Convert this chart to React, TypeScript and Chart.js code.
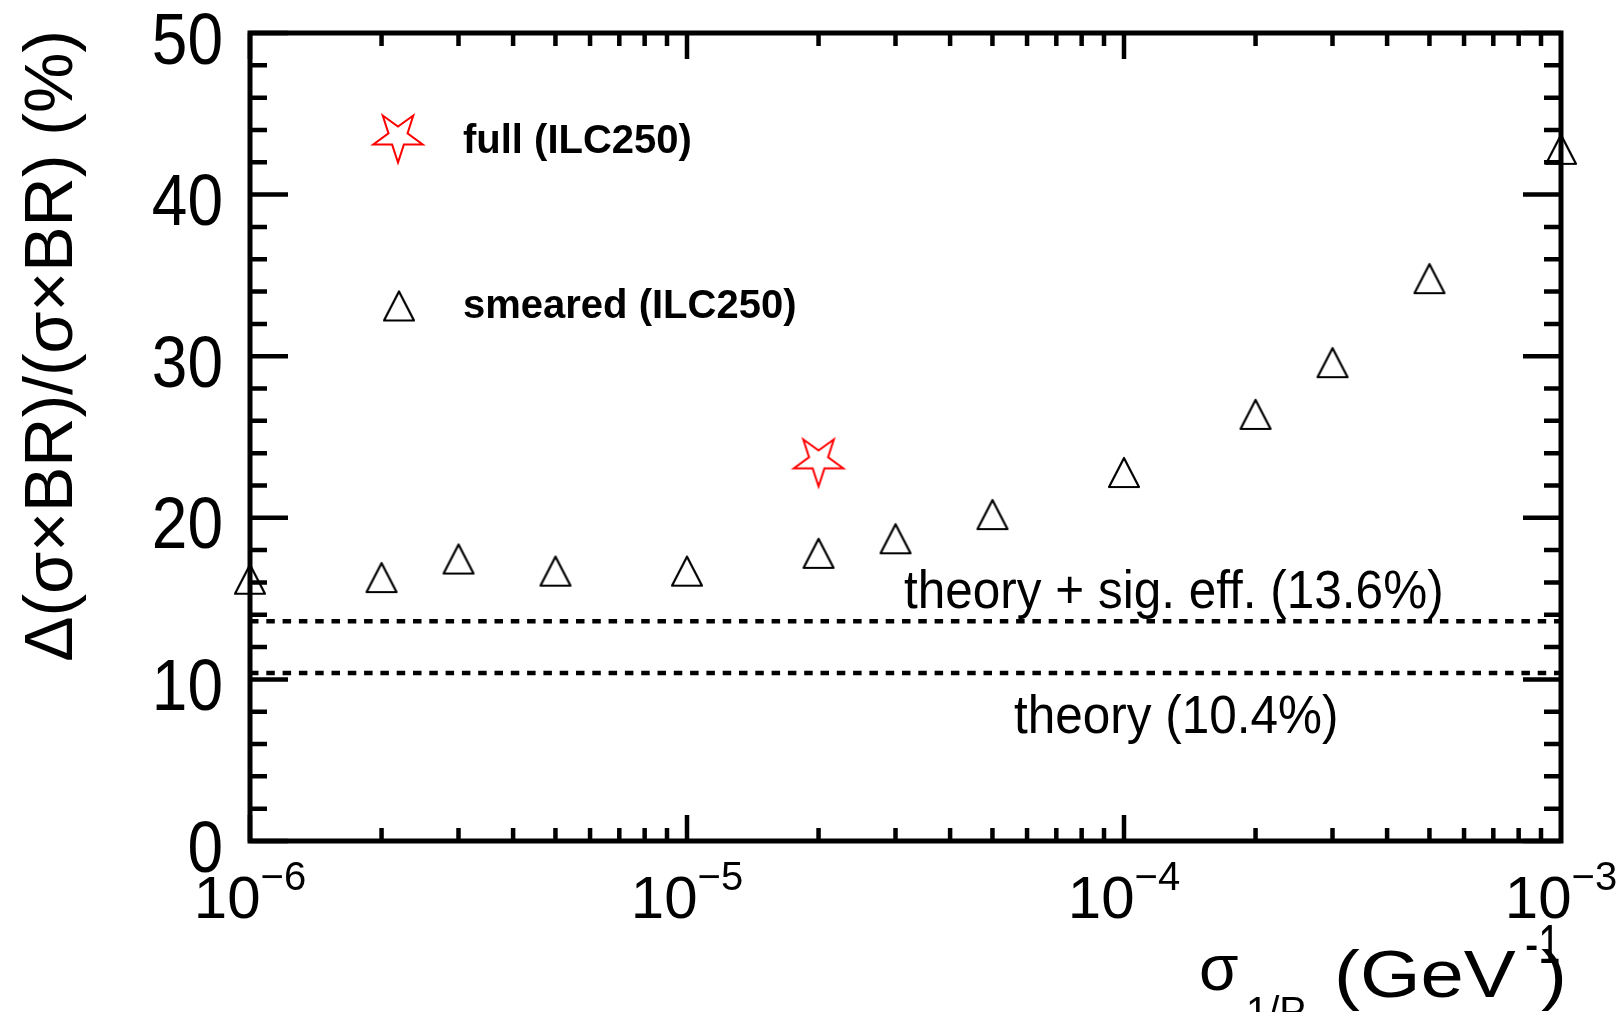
import React, { useEffect, useRef } from "react";
import { Chart, registerables } from "chart.js";

Chart.register(...registerables);

// ---- data ----
const X_VALUES = [1e-6, 2e-6, 3e-6, 5e-6, 1e-5, 2e-5, 3e-5, 5e-5, 1e-4, 2e-4, 3e-4, 5e-4, 1e-3];
const SMEARED = [16.2, 16.3, 17.45, 16.7, 16.7, 17.8, 18.7, 20.2, 22.8, 26.4, 29.6, 34.8, 42.8];
const FULL_X = [2e-5];
const FULL_Y = [23.4];
const THEORY_SIG_EFF = 13.6;
const THEORY = 10.4;
const X_MIN = 1e-6;
const X_MAX = 1e-3;
const Y_MIN = 0;
const Y_MAX = 50;
const Y_MAJOR_TICKS = [0, 10, 20, 30, 40, 50];
const Y_MINOR_STEP = 2;
const X_DECADE_EXPONENTS = [-6, -5, -4, -3];
const LEGEND_LABELS = ["full (ILC250)", "smeared (ILC250)"];
const THEORY_LABELS = ["theory + sig. eff. (13.6%)", "theory (10.4%)"];
const Y_TITLE = "\u0394(\u03c3\u00d7BR)/(\u03c3\u00d7BR) (%)";

const FONT = "'Liberation Sans', Arial, Helvetica, sans-serif";

function makeTriangle(): HTMLCanvasElement {
  const c = document.createElement("canvas");
  c.width = 34;
  c.height = 33;
  const g = c.getContext("2d")!;
  g.strokeStyle = "#000";
  g.lineWidth = 2.2;
  g.lineJoin = "round";
  g.beginPath();
  g.moveTo(17, 2);
  g.lineTo(32, 31);
  g.lineTo(2, 31);
  g.closePath();
  g.stroke();
  return c;
}

function makeStar(): HTMLCanvasElement {
  const c = document.createElement("canvas");
  c.width = 58;
  c.height = 54;
  const g = c.getContext("2d")!;
  const R = 26;
  const r = 10;
  const cx = 29;
  const cy = 27 - 0.0955 * R;
  g.strokeStyle = "#ff0000";
  g.lineWidth = 2;
  g.lineJoin = "miter";
  g.beginPath();
  for (let i = 0; i < 10; i++) {
    const a = Math.PI / 2 + (i * Math.PI) / 5;
    const rad = i % 2 === 0 ? R : r;
    const px = cx + rad * Math.cos(a);
    const py = cy + rad * Math.sin(a);
    if (i === 0) g.moveTo(px, py);
    else g.lineTo(px, py);
  }
  g.closePath();
  g.stroke();
  return c;
}

function txt(
  ctx: CanvasRenderingContext2D,
  s: string,
  x: number,
  y: number,
  font: string,
  align: CanvasTextAlign = "left",
  sx = 1,
  sy = 1
) {
  ctx.save();
  ctx.font = font;
  ctx.textAlign = align;
  ctx.textBaseline = "alphabetic";
  ctx.fillStyle = "#000";
  ctx.translate(x, y);
  ctx.scale(sx, sy);
  ctx.fillText(s, 0, 0);
  ctx.restore();
}

export default function App() {
  const ref = useRef<HTMLCanvasElement | null>(null);

  useEffect(() => {
    const canvas = ref.current;
    if (!canvas) return;
    const tri = makeTriangle();
    const star = makeStar();

    const framePlugin = {
      id: "rootFrame",
      beforeDatasetsDraw(chart: any) {
        const ctx: CanvasRenderingContext2D = chart.ctx;
        const { left, right, top, bottom } = chart.chartArea;
        const xs = chart.scales.x;
        const ys = chart.scales.y;
        ctx.save();
        ctx.strokeStyle = "#000";
        ctx.lineCap = "butt";
        // ticks
        ctx.lineWidth = 4.5;
        ctx.beginPath();
        for (let v = Y_MIN; v <= Y_MAX; v += Y_MINOR_STEP) {
          const py = ys.getPixelForValue(v);
          const major = Y_MAJOR_TICKS.includes(v);
          const len = major ? 38 : 17;
          ctx.moveTo(left, py);
          ctx.lineTo(left + len, py);
          ctx.moveTo(right, py);
          ctx.lineTo(right - len, py);
        }
        for (let e = X_DECADE_EXPONENTS[0]; e < X_DECADE_EXPONENTS[X_DECADE_EXPONENTS.length - 1]; e++) {
          for (let m = 1; m <= 9; m++) {
            const v = m * Math.pow(10, e);
            const px = xs.getPixelForValue(v);
            const len = m === 1 ? 26 : 13;
            ctx.moveTo(px, bottom);
            ctx.lineTo(px, bottom - len);
            ctx.moveTo(px, top);
            ctx.lineTo(px, top + len);
          }
        }
        ctx.stroke();
        // frame
        ctx.lineWidth = 5;
        ctx.strokeRect(left, top, right - left, bottom - top);
        ctx.restore();

        // y tick labels
        for (const v of Y_MAJOR_TICKS) {
          const py = ys.getPixelForValue(v);
          txt(ctx, String(v), 223, py + 30.5, `64px ${FONT}`, "right", 1, 1.12);
        }
        // x tick labels
        for (const e of X_DECADE_EXPONENTS) {
          const px = xs.getPixelForValue(Math.pow(10, e));
          ctx.save();
          ctx.font = `60px ${FONT}`;
          const w1 = ctx.measureText("10").width;
          ctx.font = `40px ${FONT}`;
          const sup = "\u2212" + String(Math.abs(e));
          const w2 = ctx.measureText(sup).width;
          ctx.restore();
          const start = px - (w1 + w2) / 2;
          txt(ctx, "10", start, 918, `60px ${FONT}`);
          txt(ctx, sup, start + w1, 890, `40px ${FONT}`);
        }

        // y title
        ctx.save();
        ctx.translate(72, 30);
        ctx.rotate(-Math.PI / 2);
        ctx.font = `68px ${FONT}`;
        ctx.textAlign = "right";
        ctx.textBaseline = "alphabetic";
        ctx.fillStyle = "#000";
        ctx.fillText(Y_TITLE, 0, 0);
        ctx.restore();

        // x title
        txt(ctx, "\u03c3", 1199, 990, `64px ${FONT}`);
        txt(ctx, "1/P", 1246, 1025, `40px ${FONT}`);
        txt(ctx, "t", 1306, 1043, `30px ${FONT}`);
        txt(ctx, "(GeV", 1334, 997, `66px ${FONT}`, "left", 1.18, 1);
        txt(ctx, "-1", 1525, 963, `40px ${FONT}`, "left", 1, 1.4);
        txt(ctx, ")", 1541, 997, `66px ${FONT}`, "left", 1.18, 1);

        // theory labels
        txt(ctx, THEORY_LABELS[0], 904, 608, `49px ${FONT}`, "left", 1.01, 1.1);
        txt(ctx, THEORY_LABELS[1], 1014, 733, `49px ${FONT}`, "left", 1.01, 1.1);

        // legend
        ctx.drawImage(star, 398 - star.width / 2, 139 - star.height / 2);
        ctx.drawImage(tri, 399 - tri.width / 2, 306 - tri.height / 2);
        txt(ctx, LEGEND_LABELS[0], 463, 153, `bold 40px ${FONT}`);
        txt(ctx, LEGEND_LABELS[1], 463, 318, `bold 40px ${FONT}`);
      },
    };

    const chart = new Chart(canvas, {
      type: "scatter",
      data: {
        datasets: [
          {
            type: "line",
            label: "theory + sig. eff.",
            data: [
              { x: X_MIN, y: THEORY_SIG_EFF },
              { x: X_MAX, y: THEORY_SIG_EFF },
            ],
            borderColor: "#000",
            borderWidth: 4.5,
            borderDash: [8.5, 7.8],
            pointRadius: 0,
            fill: false,
          },
          {
            type: "line",
            label: "theory",
            data: [
              { x: X_MIN, y: THEORY },
              { x: X_MAX, y: THEORY },
            ],
            borderColor: "#000",
            borderWidth: 4.5,
            borderDash: [8.5, 7.8],
            pointRadius: 0,
            fill: false,
          },
          {
            label: "smeared (ILC250)",
            data: X_VALUES.map((x, i) => ({ x, y: SMEARED[i] })),
            pointStyle: tri as any,
            pointRadius: 16,
            showLine: false,
            clip: false as any,
          },
          {
            label: "full (ILC250)",
            data: FULL_X.map((x, i) => ({ x, y: FULL_Y[i] })),
            pointStyle: star as any,
            pointRadius: 25,
            showLine: false,
            clip: false as any,
          },
        ],
      },
      options: {
        responsive: false,
        animation: false,
        events: [],
        layout: { padding: { top: 33, right: 55, left: 0, bottom: 0 } },
        plugins: { legend: { display: false }, tooltip: { enabled: false } },
        scales: {
          x: {
            type: "logarithmic",
            min: X_MIN,
            max: X_MAX,
            ticks: { display: false },
            grid: { display: false },
            border: { display: false },
            afterFit: (s: any) => {
              s.height = 171;
            },
          },
          y: {
            type: "linear",
            min: Y_MIN,
            max: Y_MAX,
            ticks: { display: false },
            grid: { display: false },
            border: { display: false },
            afterFit: (s: any) => {
              s.width = 250;
            },
          },
        },
      },
      plugins: [framePlugin],
    });
    return () => chart.destroy();
  }, []);

  return (
    <div style={{ position: "fixed", left: 0, top: 0, width: 1616, height: 1012, background: "#fff" }}>
      <canvas ref={ref} width={1616} height={1012} style={{ display: "block" }} />
    </div>
  );
}
